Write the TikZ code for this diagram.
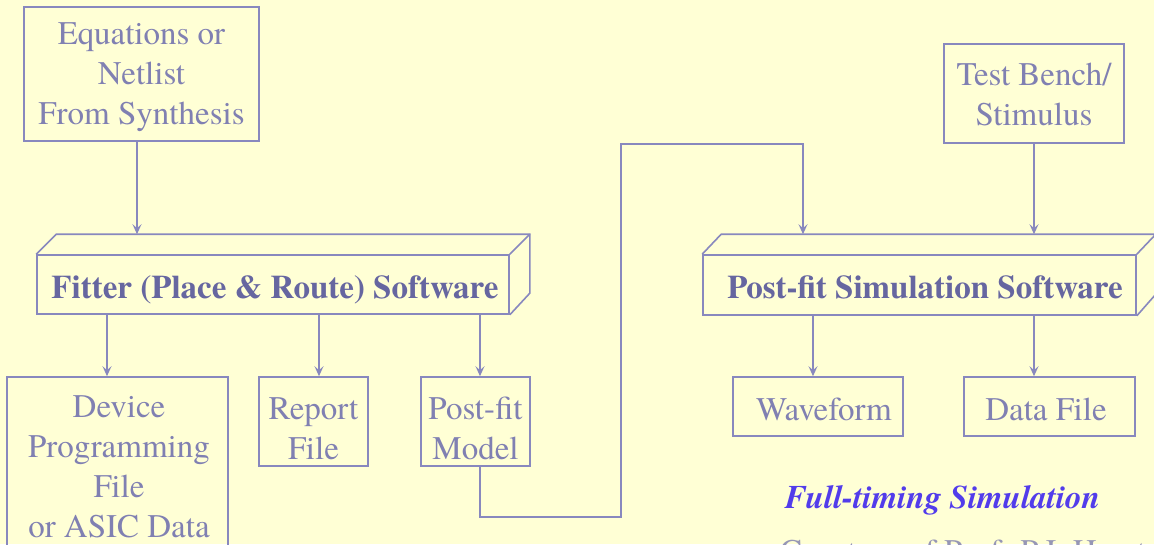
\documentclass[tikz,border=0pt]{standalone}
\usepackage{fontspec}
\setmainfont{texgyretermes}[Extension=.otf, UprightFont=*-regular, BoldFont=*-bold, ItalicFont=*-italic, BoldItalicFont=*-bolditalic]
\usetikzlibrary{arrows.meta}
\definecolor{paper}{RGB}{255,255,213}
\definecolor{edge}{RGB}{136,136,190}
\definecolor{plain}{RGB}{128,128,178}
\definecolor{strong}{RGB}{102,102,160}
\definecolor{accent}{RGB}{82,60,235}
\definecolor{credit}{RGB}{150,150,182}
\tikzset{
  line/.style={draw=edge, line width=1.6pt},
  arr/.style={line, -{Stealth[length=10pt,width=9pt,inset=4pt]}},
  filebox/.style={line, rectangle, inner sep=0pt},
  swface/.style={line, rectangle, inner sep=0pt},
  txt/.style={text=plain, inner sep=0pt, align=center, font=\fontsize{33}{40}\selectfont},
  swtxt/.style={text=strong, inner sep=0pt, font=\fontsize{33}{40}\selectfont\bfseries},
}
\begin{document}
\begin{tikzpicture}[x=1pt, y=-1pt]
\useasboundingbox (0,0) rectangle (1154,544);
\fill[paper] (0,0) rectangle (1154,544);
\begin{scope}
\clip (0,0) rectangle (1154,544);

% input boxes
\node[filebox, minimum width=235pt, minimum height=134pt] (eq) at (141.5,74) {};
\node[txt, anchor=north] (eqt) at (141.5,22.5) {Equations or\\Netlist\\From Synthesis};
\node[filebox, minimum width=180pt, minimum height=99pt] (test) at (1034,93.5) {};
\node[txt, anchor=north] (testt) at (1034,62.5) {Test Bench/\\Stimulus};

% fitter software (3-D bar)
\node[swface, minimum width=472pt, minimum height=59pt] (fitter) at (273,284.5) {};
\node[swtxt, anchor=base] (fittert) at (275,298) {Fitter (Place \& Route) Software};
\draw[line] (fitter.north west) -- ++(20,-20) coordinate (fitback) -- ([shift={(20,-20)}]fitter.north east)
  -- ++(0,59) -- (fitter.south east);
\draw[line] (fitter.north east) -- ++(20,-20);

% post-fit simulation software (3-D bar)
\node[swface, minimum width=433pt, minimum height=60pt] (sim) at (919.5,285) {};
\node[swtxt, anchor=base] (simt) at (925,298) {Post-fit Simulation Software};
\draw[line] (sim.north west) -- ++(19,-20) coordinate (simback) -- ([shift={(19,-20)}]sim.north east)
  -- ++(0,60) -- (sim.south east);
\draw[line] (sim.north east) -- ++(19,-20);

% output boxes
\node[filebox, minimum width=221pt, minimum height=193pt] (dev) at (117.5,473.5) {};
\node[txt, anchor=north] (devt) at (119,395.5) {Device\\Programming\\File\\or ASIC Data};
\node[filebox, minimum width=109pt, minimum height=89pt] (rep) at (313.5,421.5) {};
\node[txt, anchor=north] (rept) at (313.5,397.5) {Report\\File};
\node[filebox, minimum width=109pt, minimum height=89pt] (model) at (475.5,421.5) {};
\node[txt, anchor=north] (modelt) at (475.5,396.5) {Post-fit\\Model};
\node[filebox, minimum width=170pt, minimum height=59pt] (wave) at (818,406.5) {};
\node[txt, anchor=base] (wavet) at (824,420) {Waveform};
\node[filebox, minimum width=171pt, minimum height=59pt] (data) at (1049.5,406.5) {};
\node[txt, anchor=base] (datat) at (1046,420) {Data File};

% connectors
\draw[arr] (137,0 |- eq.south) -- (137,0 |- fitback);
\draw[arr] (test.south) -- (test.south |- simback);
\draw[arr] (107,0 |- fitter.south) -- (107,0 |- dev.north);
\draw[arr] (319,0 |- fitter.south) -- (319,0 |- rep.north);
\draw[arr] (480,0 |- fitter.south) -- (480,0 |- model.north);
\draw[arr] (813,0 |- sim.south) -- (813,0 |- wave.north);
\draw[arr] (1034,0 |- sim.south) -- (1034,0 |- data.north);
\draw[arr] (480,0 |- model.south) |- (621,517) -- (621,144) -| (803,0 |- simback);

% captions
\node[text=accent, inner sep=0pt, anchor=base, font=\fontsize{33}{40}\selectfont\bfseries\itshape] (cap) at (942.5,508) {Full-timing Simulation};
\node[text=credit, inner sep=0pt, anchor=base west, font=\fontsize{33}{40}\selectfont] (credit) at (780,562) {Courtesy of Prof. P.J. Hurst};
\end{scope}
\end{tikzpicture}
\end{document}
